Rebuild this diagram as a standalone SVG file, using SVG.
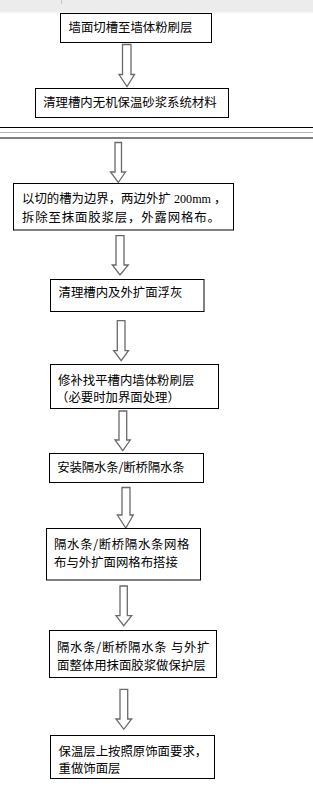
<svg xmlns="http://www.w3.org/2000/svg" width="313" height="792" viewBox="0 0 313 792">
<defs>
<linearGradient id="fade" x1="0" y1="0" x2="0" y2="1">
<stop offset="0" stop-color="#ececec"/>
<stop offset="1" stop-color="#ffffff"/>
</linearGradient>
</defs>
<style>
.box{fill:#fff;stroke:#000;stroke-width:1}
.t{font-family:"Noto Sans CJK SC","Noto Sans CJK JP",sans-serif;font-size:12.4px;fill:#000}
.lat{font-family:"Liberation Serif",serif;font-size:12px;fill:#000}
.arr{fill:#fff;stroke:#6a6a6a;stroke-width:1.3;stroke-linejoin:miter}
.rule{stroke:#000;stroke-width:1.2}
</style>
<rect x="0" y="0" width="313" height="792" fill="#fff"/>
<rect x="0" y="0" width="313" height="11" fill="#ececec"/>
<rect x="0" y="11" width="313" height="3" fill="url(#fade)"/>
<line x1="61.5" y1="0" x2="61.5" y2="4" stroke="#c8c8c8" stroke-width="1"/>
<line x1="0" y1="127.5" x2="313" y2="127.5" class="rule"/>
<line x1="0" y1="132.5" x2="313" y2="132.5" stroke="#b4b4b4" stroke-width="1.2"/>
<line x1="0" y1="138" x2="313" y2="138" class="rule"/>
<g id="connectors">
<path class="arr" d="M122.5,44.5 H131 V74.5 H134.5 L127,86.5 L119,74.5 H122.5 Z"/>
<path class="arr" d="M115,142.5 H121.5 V172 H125.5 L118.3,182.5 L110.5,172 H115 Z"/>
<path class="arr" d="M116,235.7 H124 V265 H128.3 L120,275 L112.3,265 H116 Z"/>
<path class="arr" d="M117.3,320.7 H125 V350.7 H128.5 L121.2,360.7 L113.7,350.7 H117.3 Z"/>
<path class="arr" d="M119,411 H126.7 V440 H130.3 L122.8,450.7 L115,440 H119 Z"/>
<path class="arr" d="M122,487.5 H130 V515 H133.3 L125.8,528 L117.3,515 H122 Z"/>
<path class="arr" d="M120,586 H127.3 V615.7 H131.7 L123.7,625.7 L116,615.7 H120 Z"/>
<path class="arr" d="M120,689.3 H127.7 V719 H131.7 L123.8,729.3 L116,719 H120 Z"/>
</g>
<g id="n1"><rect class="box" x="60.5" y="13.5" width="151" height="29"/><text class="t" x="68.5" y="32">墙面切槽至墙体粉刷层</text></g>
<g id="n2"><rect class="box" x="35.5" y="88.5" width="193" height="29"/><text class="t" x="43.2" y="107">清理槽内无机保温砂浆系统材料</text></g>
<g id="n3"><rect class="box" x="13.5" y="183.5" width="220" height="46.5"/>
<text class="t" x="22" y="202.5">以切的槽为边界，两边外扩</text>
<text class="lat" x="174" y="202.5" textLength="37" lengthAdjust="spacingAndGlyphs">200mm</text>
<text class="t" x="214" y="202.5">，</text>
<text class="t" x="22" y="221.5" textLength="198" lengthAdjust="spacing">拆除至抹面胶浆层，外露网格布。</text></g>
<g id="n4"><rect class="box" x="50.5" y="279.5" width="153.5" height="32"/><text class="t" x="58.5" y="297">清理槽内及外扩面浮灰</text></g>
<g id="n5"><rect class="box" x="50.5" y="364.5" width="168" height="44"/><text class="t" x="58" y="385">修补找平槽内墙体粉刷层</text><text class="t" x="56" y="402">（必要时加界面处理）</text></g>
<g id="n6"><rect class="box" x="49.5" y="453.5" width="154" height="29"/><text class="t" x="57.2" y="472" textLength="127.5" lengthAdjust="spacing">安装隔水条/断桥隔水条</text></g>
<g id="n7"><rect class="box" x="46.5" y="528.5" width="154" height="51.5"/><text class="t" x="54" y="549" textLength="135.5" lengthAdjust="spacing">隔水条/断桥隔水条网格</text><text class="t" x="54" y="566.5">布与外扩面网格布搭接</text></g>
<g id="n8"><rect class="box" x="49.5" y="630.5" width="167" height="47"/><text class="t" x="57" y="651.5" textLength="152.5" lengthAdjust="spacing">隔水条/断桥隔水条 与外扩</text><text class="t" x="57" y="669.5">面整体用抹面胶浆做保护层</text></g>
<g id="n9"><rect class="box" x="50.5" y="735.5" width="164" height="43"/><text class="t" x="58.5" y="756">保温层上按照原饰面要求，</text><text class="t" x="58.5" y="772.5">重做饰面层</text></g>
</svg>
